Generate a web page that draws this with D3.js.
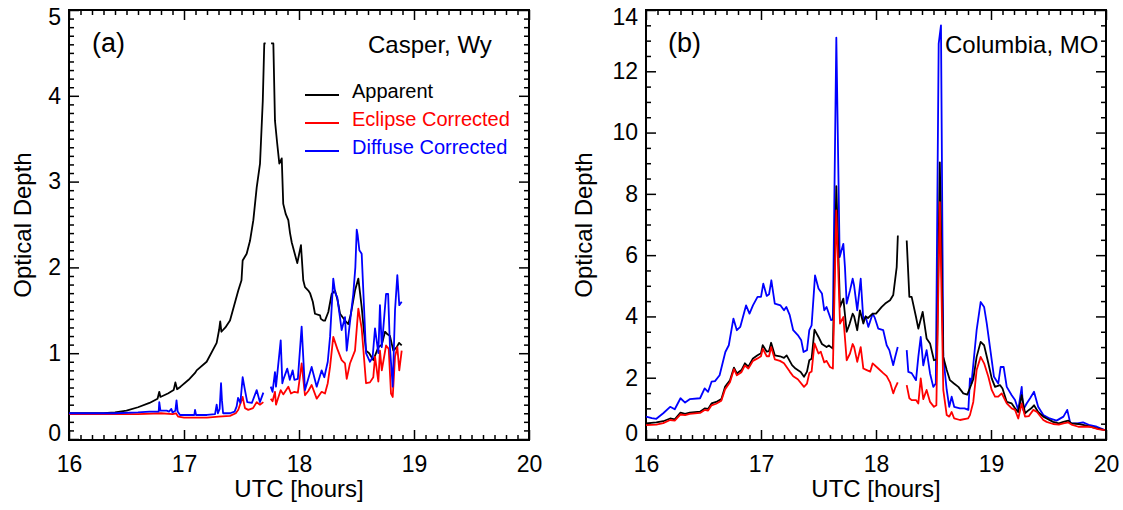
<!DOCTYPE html>
<html><head><meta charset="utf-8">
<script src="https://cdn.jsdelivr.net/npm/d3@7"></script>
<style>
body{margin:0;background:#fff;}
svg{display:block;font-family:"Liberation Sans",Arial,Helvetica,sans-serif;}
</style></head><body>
<svg id="chart" width="1123" height="510"></svg>
<script>
// ---------- data ----------
const xTicks = [16, 17, 18, 19, 20];
const yTicksA = [0, 1, 2, 3, 4, 5];
const yTicksB = [0, 2, 4, 6, 8, 10, 12, 14];
const legendLabels = ["Apparent", "Eclipse Corrected", "Diffuse Corrected"];
const seriesColors = ["#000000", "#ff0000", "#0000ff"];
const panelLetters = ["(a)", "(b)"];
const siteNames = ["Casper, Wy", "Columbia, MO"];
const xTitle = "UTC [hours]";
const yTitle = "Optical Depth";

// Panel (a) Casper: [UTC hour, optical depth]; null = data gap
const apparentA = [[16.00,0.30],[16.30,0.30],[16.40,0.31],[16.50,0.33],[16.60,0.37],[16.70,0.42],[16.77,0.47],[16.785,0.55],[16.795,0.49],[16.86,0.53],[16.91,0.57],[16.925,0.66],[16.94,0.58],[16.97,0.61],[17.04,0.69],[17.096,0.77],[17.11,0.80],[17.197,0.90],[17.284,1.12],[17.305,1.27],[17.315,1.37],[17.325,1.25],[17.36,1.30],[17.40,1.38],[17.472,1.73],[17.50,1.85],[17.51,2.08],[17.545,2.16],[17.574,2.31],[17.603,2.55],[17.632,2.93],[17.661,3.21],[17.685,3.94],[17.698,4.61],[17.71,4.61],null,[17.757,4.61],[17.777,4.61],[17.791,3.71],[17.81,3.45],[17.829,3.21],[17.85,3.27],[17.863,2.74],[17.885,2.62],[17.907,2.55],[17.922,2.40],[17.937,2.29],[17.985,2.05],[18.017,2.26],[18.037,1.85],[18.052,1.77],[18.081,1.73],[18.096,1.70],[18.12,1.60],[18.139,1.46],[18.183,1.44],[18.19,1.40],[18.211,1.38],[18.226,1.38],[18.255,1.48],[18.284,1.69],[18.313,1.73],[18.335,1.62],[18.357,1.46],[18.40,1.38],[18.429,1.34],[18.45,1.45],[18.487,1.73],[18.516,1.87],[18.545,1.54],[18.565,1.25],[18.583,1.03],[18.61,1.00],[18.646,0.92],[18.69,1.07],[18.72,1.10],[18.748,1.25],[18.77,1.22],[18.791,1.20],[18.82,1.03],[18.85,1.07],[18.87,1.12],[18.893,1.09]];
const eclipseA = [[16.00,0.29],[16.40,0.29],[16.60,0.29],[16.80,0.30],[16.90,0.29],[16.93,0.30],[16.95,0.26],[17.00,0.25],[17.10,0.25],[17.20,0.25],[17.30,0.26],[17.40,0.27],[17.45,0.30],[17.472,0.34],[17.51,0.49],[17.53,0.36],[17.559,0.34],[17.60,0.36],[17.632,0.43],[17.66,0.40],[17.69,0.43],null,[17.754,0.47],[17.77,0.44],[17.791,0.55],[17.80,0.40],[17.841,0.57],[17.863,0.52],[17.907,0.61],[17.93,0.53],[17.96,0.55],[17.99,0.54],[18.023,0.88],[18.052,0.51],[18.081,0.56],[18.11,0.63],[18.154,0.47],[18.197,0.55],[18.226,0.53],[18.25,0.65],[18.27,0.84],[18.298,1.19],[18.333,1.05],[18.371,0.92],[18.40,0.88],[18.415,0.70],[18.443,0.88],[18.487,1.03],[18.516,1.52],[18.545,1.29],[18.583,0.65],[18.617,0.66],[18.646,0.72],[18.661,0.96],[18.69,0.67],[18.704,1.03],[18.72,0.80],[18.757,1.09],[18.78,1.05],[18.80,0.53],[18.815,0.49],[18.835,0.96],[18.855,1.07],[18.872,0.80],[18.893,1.03]];
const diffuseA = [[16.00,0.30],[16.40,0.30],[16.60,0.31],[16.70,0.32],[16.78,0.32],[16.785,0.43],[16.795,0.33],[16.85,0.33],[16.87,0.32],[16.89,0.35],[16.90,0.31],[16.925,0.33],[16.935,0.45],[16.945,0.32],[16.965,0.28],[17.05,0.28],[17.09,0.28],[17.096,0.34],[17.105,0.28],[17.20,0.28],[17.27,0.29],[17.284,0.40],[17.295,0.30],[17.31,0.35],[17.322,0.65],[17.33,0.45],[17.34,0.30],[17.40,0.30],[17.44,0.32],[17.458,0.38],[17.47,0.48],[17.49,0.42],[17.51,0.72],[17.53,0.57],[17.55,0.43],[17.59,0.42],[17.632,0.57],[17.66,0.43],[17.69,0.54],null,[17.754,0.61],[17.77,0.55],[17.791,0.78],[17.80,0.61],[17.841,1.15],[17.855,0.65],[17.863,0.69],[17.898,0.82],[17.92,0.69],[17.945,0.80],[17.96,0.69],[17.99,0.70],[18.023,1.31],[18.052,0.57],[18.08,0.70],[18.11,0.84],[18.154,0.61],[18.197,0.80],[18.22,0.72],[18.25,0.90],[18.27,1.19],[18.298,1.87],[18.315,1.70],[18.333,1.65],[18.371,1.27],[18.40,1.42],[18.415,1.03],[18.443,1.36],[18.472,1.69],[18.49,2.00],[18.502,2.44],[18.51,2.38],[18.525,2.20],[18.545,2.16],[18.583,1.00],[18.617,0.90],[18.64,0.95],[18.661,1.29],[18.69,1.00],[18.704,1.56],[18.72,1.07],[18.757,1.69],[18.775,1.69],[18.791,1.07],[18.815,0.61],[18.835,1.50],[18.855,1.91],[18.872,1.56],[18.893,1.60]];

// Panel (b) Columbia
const apparentB = [[16.00,0.51],[16.09,0.54],[16.15,0.58],[16.21,0.67],[16.25,0.64],[16.30,0.86],[16.34,0.82],[16.38,0.86],[16.47,0.89],[16.51,1.00],[16.54,0.98],[16.57,1.16],[16.61,1.21],[16.655,1.30],[16.687,1.70],[16.73,1.92],[16.765,2.33],[16.79,2.14],[16.83,2.25],[16.86,2.47],[16.89,2.36],[16.93,2.63],[16.97,2.73],[17.00,2.80],[17.015,3.06],[17.05,2.85],[17.07,2.87],[17.088,3.14],[17.12,2.73],[17.165,2.70],[17.20,2.65],[17.223,2.73],[17.27,2.41],[17.30,2.30],[17.345,2.19],[17.374,2.03],[17.40,2.20],[17.42,2.57],[17.44,2.62],[17.465,3.57],[17.50,3.33],[17.53,3.10],[17.57,3.00],[17.59,3.05],[17.625,2.95],[17.655,8.25],[17.687,4.31],[17.716,4.58],[17.745,3.50],[17.77,3.75],[17.797,4.09],[17.81,4.00],[17.837,3.55],[17.86,4.20],[17.89,3.77],[17.91,4.00],[17.93,3.95],[17.971,4.09],[18.00,4.09],[18.05,4.31],[18.08,4.42],[18.122,4.53],[18.15,4.70],[18.18,5.61],[18.19,6.64],null,[18.267,6.48],[18.29,4.64],[18.31,4.64],[18.348,3.98],[18.368,3.60],[18.406,4.15],[18.44,3.28],[18.47,3.12],[18.504,2.57],[18.53,2.60],[18.555,9.03],[18.585,2.68],[18.615,2.25],[18.643,1.92],[18.678,1.81],[18.716,1.70],[18.759,1.49],[18.794,1.45],[18.832,1.81],[18.846,1.95],[18.875,2.68],[18.91,3.17],[18.94,3.06],[18.977,2.47],[19.006,1.98],[19.035,1.70],[19.078,1.76],[19.10,1.65],[19.137,1.21],[19.18,1.16],[19.209,1.00],[19.237,0.88],[19.267,1.43],[19.296,0.84],[19.33,0.95],[19.35,1.00],[19.374,1.10],[19.41,0.88],[19.455,0.73],[19.484,0.67],[19.54,0.56],[19.59,0.51],[19.63,0.56],[19.672,0.60],[19.70,0.51],[19.76,0.49],[19.81,0.45],[19.861,0.40],[19.93,0.34],[19.99,0.29]];
const eclipseB = [[16.00,0.45],[16.09,0.47],[16.15,0.52],[16.21,0.62],[16.25,0.60],[16.30,0.80],[16.34,0.78],[16.38,0.82],[16.47,0.85],[16.51,0.95],[16.54,0.93],[16.57,1.10],[16.61,1.15],[16.655,1.25],[16.687,1.62],[16.73,1.85],[16.765,2.28],[16.79,2.08],[16.83,2.18],[16.86,2.40],[16.89,2.30],[16.93,2.55],[16.97,2.63],[17.00,2.70],[17.015,2.95],[17.05,2.70],[17.07,2.70],[17.088,3.00],[17.12,2.60],[17.165,2.55],[17.20,2.47],[17.25,2.20],[17.28,2.05],[17.32,1.95],[17.374,1.70],[17.40,1.81],[17.42,2.15],[17.44,2.20],[17.465,3.12],[17.50,2.79],[17.52,2.85],[17.55,2.50],[17.57,2.55],[17.60,2.35],[17.625,2.30],[17.655,7.46],[17.687,3.77],[17.716,3.98],[17.745,2.57],[17.774,2.79],[17.797,3.10],[17.81,3.00],[17.837,2.52],[17.867,3.00],[17.89,2.30],[17.92,2.25],[17.95,2.20],[17.971,2.47],[18.02,2.30],[18.063,2.15],[18.093,2.05],[18.122,1.85],[18.15,1.49],[18.165,1.65],[18.189,1.85],null,[18.267,1.76],[18.29,1.33],[18.31,1.27],[18.348,1.27],[18.368,1.16],[18.389,1.98],[18.411,1.30],[18.44,1.60],[18.47,1.21],[18.504,1.05],[18.525,1.10],[18.555,7.73],[18.585,1.60],[18.615,0.78],[18.637,0.73],[18.658,0.88],[18.68,0.67],[18.73,0.62],[18.80,0.67],[18.817,0.78],[18.846,1.21],[18.875,2.25],[18.91,2.68],[18.94,2.47],[18.977,2.03],[19.006,1.60],[19.035,1.38],[19.063,1.38],[19.093,1.49],[19.137,1.16],[19.18,1.00],[19.209,0.95],[19.237,0.67],[19.267,1.16],[19.296,0.73],[19.33,0.75],[19.368,0.95],[19.40,0.88],[19.455,0.62],[19.484,0.56],[19.54,0.49],[19.59,0.47],[19.63,0.51],[19.672,0.54],[19.70,0.47],[19.76,0.40],[19.81,0.40],[19.861,0.40],[19.93,0.32],[19.99,0.29]];
const diffuseB = [[16.00,0.73],[16.05,0.68],[16.09,0.66],[16.15,0.84],[16.21,1.05],[16.25,0.97],[16.30,1.33],[16.34,1.19],[16.38,1.30],[16.47,1.33],[16.51,1.65],[16.54,1.54],[16.57,1.87],[16.60,1.89],[16.64,2.08],[16.69,2.84],[16.72,3.06],[16.76,3.93],[16.79,3.55],[16.82,3.66],[16.87,4.36],[16.90,4.09],[16.93,4.36],[16.97,4.64],[17.00,4.64],[17.02,5.07],[17.05,4.67],[17.07,4.72],[17.09,5.18],[17.12,4.42],[17.17,4.36],[17.20,4.20],[17.22,4.31],[17.25,4.04],[17.28,3.55],[17.32,3.39],[17.35,3.22],[17.37,2.84],[17.40,2.90],[17.42,3.55],[17.44,3.71],[17.47,5.34],[17.50,4.91],[17.53,4.75],[17.55,4.20],[17.57,4.31],[17.61,3.88],[17.625,3.90],[17.655,13.1],[17.684,5.94],[17.716,6.37],[17.73,5.61],[17.745,4.42],[17.774,4.85],[17.797,5.23],[17.81,5.00],[17.837,4.20],[17.867,5.23],[17.89,3.88],[17.91,4.00],[17.933,3.66],[17.971,4.09],[17.99,3.95],[18.02,3.60],[18.063,3.55],[18.093,3.06],[18.116,2.90],[18.15,2.41],[18.165,2.65],[18.189,3.00],null,[18.267,2.90],[18.281,2.19],[18.31,2.15],[18.348,1.92],[18.368,2.68],[18.389,3.33],[18.411,2.40],[18.44,2.90],[18.47,2.14],[18.498,1.70],[18.52,1.81],[18.545,12.9],[18.565,13.5],[18.585,2.68],[18.615,1.60],[18.637,1.05],[18.658,1.38],[18.68,1.05],[18.73,1.00],[18.77,1.00],[18.803,0.95],[18.817,1.98],[18.83,1.81],[18.875,3.55],[18.91,4.47],[18.94,4.31],[18.963,3.77],[18.991,3.00],[19.026,2.03],[19.063,1.81],[19.084,2.35],[19.11,2.35],[19.137,1.70],[19.18,1.43],[19.209,1.27],[19.237,0.95],[19.267,1.70],[19.28,0.95],[19.31,1.16],[19.34,1.33],[19.374,1.54],[19.41,1.05],[19.455,0.78],[19.51,0.67],[19.57,0.60],[19.63,0.73],[19.663,0.95],[19.69,0.51],[19.75,0.51],[19.80,0.54],[19.86,0.45],[19.92,0.40],[19.99,0.29]];

// ---------- drawing ----------
const svg = d3.select("#chart");
const FONT = '"Liberation Sans", Arial, Helvetica, sans-serif';

function drawPanel(cfg, idx) {
  const {left, right, top, bottom} = cfg;
  const x = d3.scaleLinear().domain([xTicks[0], xTicks[xTicks.length - 1]]).range([left, right]);
  const y = d3.scaleLinear().domain([cfg.yTicks[0], cfg.yTicks[cfg.yTicks.length - 1]]).range([bottom - 1, top]);
  const g = svg.append("g");
  const clipId = "clip" + idx;
  svg.append("clipPath").attr("id", clipId).append("rect")
    .attr("x", left).attr("y", top).attr("width", right - left).attr("height", bottom - top);

  const xMinor = d3.range(xTicks[0], xTicks[xTicks.length - 1] + 1e-9, 0.1).map(v => +v.toFixed(2)).filter(v => !xTicks.includes(v));
  const yMax = cfg.yTicks[cfg.yTicks.length - 1];
  const yMinor = d3.range(0, yMax + 1e-9, cfg.yMinorStep).map(v => +v.toFixed(2)).filter(v => !cfg.yTicks.includes(v));

  function style(sel) {
    sel.select(".domain").remove();
    sel.selectAll("line").attr("stroke", "#000").attr("stroke-width", 1.5);
    sel.attr("font-family", FONT).attr("font-size", 23);
    sel.selectAll("text").attr("fill", "#000");
  }
  // bottom
  g.append("g").attr("transform", `translate(0,${bottom})`)
    .call(d3.axisBottom(x).tickValues(xTicks).tickSize(-10).tickSizeOuter(0).tickPadding(16).tickFormat(d3.format("d"))).call(style);
  g.append("g").attr("transform", `translate(0,${bottom})`)
    .call(d3.axisBottom(x).tickValues(xMinor).tickSize(-5).tickSizeOuter(0).tickFormat("")).call(style);
  // top
  g.append("g").attr("transform", `translate(0,${top})`)
    .call(d3.axisTop(x).tickValues(xTicks).tickSize(-10).tickSizeOuter(0).tickFormat("")).call(style);
  g.append("g").attr("transform", `translate(0,${top})`)
    .call(d3.axisTop(x).tickValues(xMinor).tickSize(-5).tickSizeOuter(0).tickFormat("")).call(style);
  // left
  const yl = g.append("g").attr("transform", `translate(${left},0)`)
    .call(d3.axisLeft(y).tickValues(cfg.yTicks).tickSize(-10).tickSizeOuter(0).tickPadding(8).tickFormat(d3.format("d"))).call(style);
  yl.selectAll(".tick text").attr("y", d => d === cfg.yTicks[0] ? -6 : (d === yMax ? 7 : 0));
  g.append("g").attr("transform", `translate(${left},0)`)
    .call(d3.axisLeft(y).tickValues(yMinor).tickSize(-5).tickSizeOuter(0).tickFormat("")).call(style);
  // right
  g.append("g").attr("transform", `translate(${right},0)`)
    .call(d3.axisRight(y).tickValues(cfg.yTicks).tickSize(-10).tickSizeOuter(0).tickFormat("")).call(style);
  g.append("g").attr("transform", `translate(${right},0)`)
    .call(d3.axisRight(y).tickValues(yMinor).tickSize(-5).tickSizeOuter(0).tickFormat("")).call(style);

  // frame
  g.append("rect").attr("x", left).attr("y", top).attr("width", right - left).attr("height", bottom - top)
    .attr("fill", "none").attr("stroke", "#000").attr("stroke-width", 2);

  // lines
  const line = d3.line().defined(d => d !== null).x(d => x(d[0])).y(d => y(d[1]));
  const lg = g.append("g").attr("clip-path", `url(#${clipId})`);
  cfg.order.forEach(k => {
    lg.append("path").datum(cfg.series[k]).attr("d", line)
      .attr("fill", "none").attr("stroke", seriesColors[k]).attr("stroke-width", 1.8)
      .attr("stroke-linejoin", "round");
  });

  // titles
  g.append("text").attr("x", (left + right) / 2).attr("y", 497).attr("text-anchor", "middle")
    .attr("font-family", FONT).attr("font-size", 24).text(xTitle);
  g.append("text").attr("transform", `translate(${cfg.yTitleX},${(top + bottom) / 2}) rotate(-90)`)
    .attr("text-anchor", "middle").attr("font-family", FONT).attr("font-size", 24).text(yTitle);
  g.append("text").attr("x", cfg.letterX).attr("y", 52).attr("font-family", FONT).attr("font-size", 27).text(panelLetters[idx]);
  g.append("text").attr("x", cfg.siteX).attr("y", 53).attr("font-family", FONT).attr("font-size", 24).text(siteNames[idx]);

  if (cfg.legend) {
    const lgY = [95, 123, 151];
    legendLabels.forEach((lab, i) => {
      g.append("line").attr("x1", 305).attr("x2", 339).attr("y1", lgY[i]).attr("y2", lgY[i])
        .attr("stroke", seriesColors[i]).attr("stroke-width", 1.8);
      g.append("text").attr("x", 352).attr("y", lgY[i] + 3).attr("font-family", FONT).attr("font-size", 20)
        .attr("fill", seriesColors[i]).text(lab);
    });
  }
}

drawPanel({left: 69, right: 529, top: 10, bottom: 440, yTicks: yTicksA, yMinorStep: 0.1,
  series: [apparentA, eclipseA, diffuseA], order: [0, 1, 2], yTitleX: 31, letterX: 92, siteX: 368, legend: true}, 0);
drawPanel({left: 646, right: 1106, top: 10, bottom: 440, yTicks: yTicksB, yMinorStep: 0.5,
  series: [apparentB, eclipseB, diffuseB], order: [2, 0, 1], yTitleX: 592, letterX: 668, siteX: 945, legend: false}, 1);
</script>
</body></html>
